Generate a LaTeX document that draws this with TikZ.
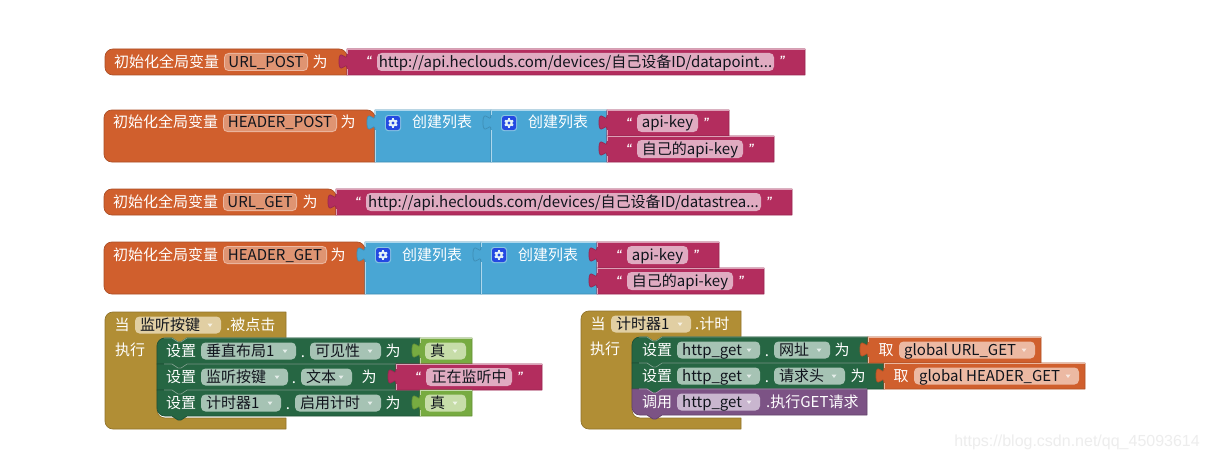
\documentclass[tikz,border=0pt]{standalone}
\usepackage{fontspec}
\setmainfont{Noto Sans CJK SC}
\newfontfamily\wm{Liberation Sans}
\definecolor{cOr}{HTML}{D05F2D}
\definecolor{cPk}{HTML}{B32D5E}
\definecolor{cBl}{HTML}{49A6D4}
\definecolor{cGn}{HTML}{266643}
\definecolor{cGd}{HTML}{B18E35}
\definecolor{cLm}{HTML}{77AB41}
\definecolor{cPu}{HTML}{7C5385}
\definecolor{pOr}{HTML}{DF9472}
\definecolor{pOl}{HTML}{ECB9A3}
\definecolor{pPk}{HTML}{E0ABC1}
\definecolor{pGn}{HTML}{A6C3B4}
\definecolor{pGd}{HTML}{E1CFA3}
\definecolor{pLm}{HTML}{C7DDA9}
\definecolor{pPu}{HTML}{C9B6CF}
\definecolor{ink}{HTML}{10141C}
\definecolor{gearc}{HTML}{2449E2}
\tikzset{
  lab/.style={inner sep=0pt,text=white,font=\fontsize{15}{16}\selectfont,text height=11pt,text depth=1pt},
  pilltext/.style={inner sep=0pt,text=ink,font=\fontsize{15}{16}\selectfont,text height=11pt,text depth=1pt},
  quo/.style={inner sep=0pt,text=white,font=\wm\itshape\bfseries\fontsize{12}{14}\selectfont,text height=8pt,text depth=0pt},
  edge/.style={line width=.7pt,line join=round},
}
\newcount\nn
\newcommand\nx{\global\advance\nn by 1 \node}
% label centre
\newcommand\lab[3]{\nx[lab] (n\the\nn) at (#1,#2) {#3};}
\newcommand\labw[3]{\nx[lab,anchor=west] (n\the\nn) at (#1,#2) {#3};}
\newcommand\qm[3]{\nx[quo] (n\the\nn) at (#1,#2+1) {#3};}
% pill: x1 x2 yc fill border text
\newcommand\pill[6]{%
  \fill[#5,rounded corners=4.5pt] (#1,#3-9) rectangle (#2,#3+9);
  \fill[#4,rounded corners=3.5pt] (#1+1,#3-8) rectangle (#2-1,#3+8);
  \nx[pilltext] (n\the\nn) at ({(#1+#2)/2},#3) {#6};}
% dropdown pill: x1 x2 yc fill arrowcolour text
\newcommand\ddpill[6]{%
  \fill[#4,rounded corners=4.5pt] (#1,#3-8.5) rectangle (#2,#3+8.5);
  \nx[pilltext,anchor=west] (n\the\nn) at (#1+5,#3) {#6};
  \fill[#5] (#2-13.5,#3-1.5) -- (#2-8.5,#3-1.5) -- (#2-11,#3+2) -- cycle;}
% hat block with rounded left corners
\newcommand\hdr[5]{%
  \path[fill=#5,draw=#5!82!black,edge] (#3,#2+8) [rounded corners=8pt] -- (#3,#2) -- (#1,#2) -- (#1,#4) [sharp corners] -- (#3,#4) -- cycle;}
% value block with left tab
\newcommand\val[5]{%
  \path[fill=#5,draw=#5!85!black,edge] (#1,#2) -- (#3,#2) -- (#3,#4) -- (#1,#4) -- (#1,#2+20) .. controls (#1,#2+10) and (#1-8,#2+28) .. (#1-8,#2+12.5) .. controls (#1-8,#2-3) and (#1,#2+15) .. (#1,#2+5) -- cycle;
  \draw[#5!45!white,line width=.7pt] (#1,#4) -- (#1,#2+20) (#1,#2+5) -- (#1,#2) -- (#3,#2);}
% statement row: x1 y1 x2 y2 colour rtl rbl
\newcommand\stmt[7]{%
  \path[fill=#5,draw=#5!80!black,edge] (#1,#2+13) [rounded corners=#6pt] -- (#1,#2) [sharp corners] -- (#1+15,#2) -- (#1+21,#2+4) -- (#1+24,#2+4) -- (#1+30,#2) -- (#3,#2) -- (#3,#4) -- (#1+30,#4) -- (#1+24,#4+4) -- (#1+21,#4+4) -- (#1+15,#4) [rounded corners=#7pt] -- (#1,#4) [sharp corners] -- (#1,#2+13);
  \draw[#5!60!white,line width=.7pt] (#1+7,#2) -- (#1+15,#2) -- (#1+21,#2+4) -- (#1+24,#2+4) -- (#1+30,#2) -- (#3,#2);}
% event block: x1 x2 ytop yhead armx ystrip
\newcommand\evt[6]{%
  \path[fill=cGd,draw=cGd!82!black,edge] (#1,#3+20) [rounded corners=8pt] -- (#1,#3) [sharp corners] -- (#2,#3) -- (#2,#4) -- (#5+30,#4) -- (#5+24,#4+4) -- (#5+21,#4+4) -- (#5+15,#4) [rounded corners=8pt] -- (#5,#4) -- (#5,#6) [sharp corners] -- (#2,#6) -- (#2,#6+11) [rounded corners=8pt] -- (#1,#6+11) [sharp corners] -- (#1,#3+20);}
\newcommand\gear[2]{%
  \fill[cBl!65!white,rounded corners=3pt] (#1-8,#2-8) rectangle (#1+8,#2+8);
  \fill[gearc,rounded corners=2.5pt] (#1-7,#2-7) rectangle (#1+7,#2+7);
  \foreach \a in {30,90,...,330} \draw[white!85!cBl,line width=1.8pt] (#1,#2) -- ++(\a:4.8);
  \fill[white!85!cBl] (#1,#2) circle (3.8pt);
  \fill[gearc] (#1,#2) circle (1.7pt);}
\begin{document}
\begin{tikzpicture}[x=1pt,y=-1pt]
\useasboundingbox (0,0) rectangle (1208,460);
\fill[white] (0,0) rectangle (1208,460);

% ---------- row 1
\hdr{105}{49}{347}{75}{cOr}
\labw{114}{62}{初始化全局变量}
\pill{224}{308}{62}{pOr}{pOl}{URL\_POST}
\lab{320}{62}{为}
\val{347}{49}{805}{75}{cPk}
\qm{369}{60}{“}
\pill{377}{774}{62}{pPk}{pPk}{http://api.heclouds.com/devices/自己设备ID/datapoint...}
\qm{782}{60}{”}

% ---------- row 2
\hdr{104}{110}{375}{162}{cOr}
\labw{113}{123}{初始化全局变量}
\pill{223}{337}{123}{pOr}{pOl}{HEADER\_POST}
\lab{348}{123}{为}
\val{375}{110}{491}{162}{cBl}
\gear{393}{123}
\lab{442}{123}{创建列表}
\val{491}{110}{607}{162}{cBl}
\gear{509}{123}
\lab{558}{123}{创建列表}
\val{607}{110}{729}{136}{cPk}
\qm{629}{121}{“}
\pill{637}{698}{123}{pPk}{pPk}{api-key}
\qm{706}{121}{”}
\val{607}{136}{774}{162}{cPk}
\qm{629}{147}{“}
\pill{637}{743}{149}{pPk}{pPk}{自己的api-key}
\qm{751}{147}{”}

% ---------- row 3
\hdr{104}{189}{336}{215}{cOr}
\labw{113}{202}{初始化全局变量}
\pill{223}{297}{202}{pOr}{pOl}{URL\_GET}
\lab{310}{202}{为}
\val{336}{189}{792}{215}{cPk}
\qm{358}{200}{“}
\pill{366}{761}{202}{pPk}{pPk}{http://api.heclouds.com/devices/自己设备ID/datastrea...}
\qm{769}{200}{”}

% ---------- row 4
\hdr{104}{242}{365}{294}{cOr}
\labw{113}{255}{初始化全局变量}
\pill{223}{327}{255}{pOr}{pOl}{HEADER\_GET}
\lab{338}{255}{为}
\val{365}{242}{481}{294}{cBl}
\gear{383}{255}
\lab{432}{255}{创建列表}
\val{481}{242}{597}{294}{cBl}
\gear{499}{255}
\lab{548}{255}{创建列表}
\val{597}{242}{719}{268}{cPk}
\qm{619}{253}{“}
\pill{627}{688}{255}{pPk}{pPk}{api-key}
\qm{696}{253}{”}
\val{597}{268}{764}{294}{cPk}
\qm{619}{279}{“}
\pill{627}{733}{281}{pPk}{pPk}{自己的api-key}
\qm{741}{279}{”}

% ---------- left event
\evt{105}{286}{312}{338}{157}{418}
\lab{122}{325}{当}
\ddpill{135}{221}{325}{pGd}{white!70!pGd}{监听按键}
\labw{226}{325}{.被点击}
\lab{130}{350}{执行}
\stmt{157}{338}{420}{364}{cGn}{8}{0}
\stmt{157}{364}{396}{390}{cGn}{0}{0}
\stmt{157}{390}{420}{416}{cGn}{0}{8}
\lab{181}{351}{设置}
\ddpill{201}{296}{351}{pGn}{white!70!pGn}{垂直布局1}
\lab{303}{352}{.}
\ddpill{310}{381}{351}{pGn}{white!70!pGn}{可见性}
\lab{393}{351}{为}
\val{420}{338}{472}{364}{cLm}
\ddpill{425}{466}{351}{pLm}{white!70!pLm}{真}
\lab{181}{377}{设置}
\ddpill{201}{288}{377}{pGn}{white!70!pGn}{监听按键}
\lab{294}{378}{.}
\ddpill{301}{352}{377}{pGn}{white!70!pGn}{文本}
\lab{369}{377}{为}
\val{396}{364}{542}{390}{cPk}
\qm{418}{375}{“}
\pill{426}{512}{377}{pPk}{pPk}{正在监听中}
\qm{520}{375}{”}
\lab{181}{403}{设置}
\ddpill{201}{281}{403}{pGn}{white!70!pGn}{计时器1}
\lab{288}{404}{.}
\ddpill{295}{381}{403}{pGn}{white!70!pGn}{启用计时}
\lab{393}{403}{为}
\val{420}{390}{472}{416}{cLm}
\ddpill{425}{466}{403}{pLm}{white!70!pLm}{真}

% ---------- right event
\evt{581}{741}{311}{337}{632}{418}
\lab{598}{324}{当}
\ddpill{611}{691}{324}{pGd}{white!70!pGd}{计时器1}
\labw{695}{324}{.计时}
\lab{605}{349}{执行}
\stmt{632}{337}{868}{363}{cGn}{8}{0}
\stmt{632}{363}{884}{389}{cGn}{0}{0}
\stmt{632}{389}{867}{415}{cPu}{0}{8}
\lab{657}{350}{设置}
\ddpill{677}{760}{350}{pGn}{white!70!pGn}{http\_get}
\lab{767}{351}{.}
\ddpill{774}{830}{350}{pGn}{white!70!pGn}{网址}
\lab{842}{350}{为}
\val{868}{337}{1041}{363}{cOr}
\lab{886}{350}{取}
\ddpill{899}{1035}{350}{pOl}{white!65!pOl}{global URL\_GET}
\lab{657}{376}{设置}
\ddpill{677}{760}{376}{pGn}{white!70!pGn}{http\_get}
\lab{767}{377}{.}
\ddpill{774}{845}{376}{pGn}{white!70!pGn}{请求头}
\lab{858}{376}{为}
\val{884}{363}{1085}{389}{cOr}
\lab{901}{376}{取}
\ddpill{914}{1079}{376}{pOl}{white!65!pOl}{global HEADER\_GET}
\lab{657}{402}{调用}
\ddpill{677}{760}{402}{pPu}{white!70!pPu}{http\_get}
\labw{766}{402}{.执行GET请求}

% ---------- watermark
\nx[inner sep=0pt,anchor=east,text=black!7,font=\wm\fontsize{16}{18}\selectfont] (n\the\nn) at (1200,442) {https://blog.csdn.net/qq\_45093614};
\end{tikzpicture}
\end{document}
